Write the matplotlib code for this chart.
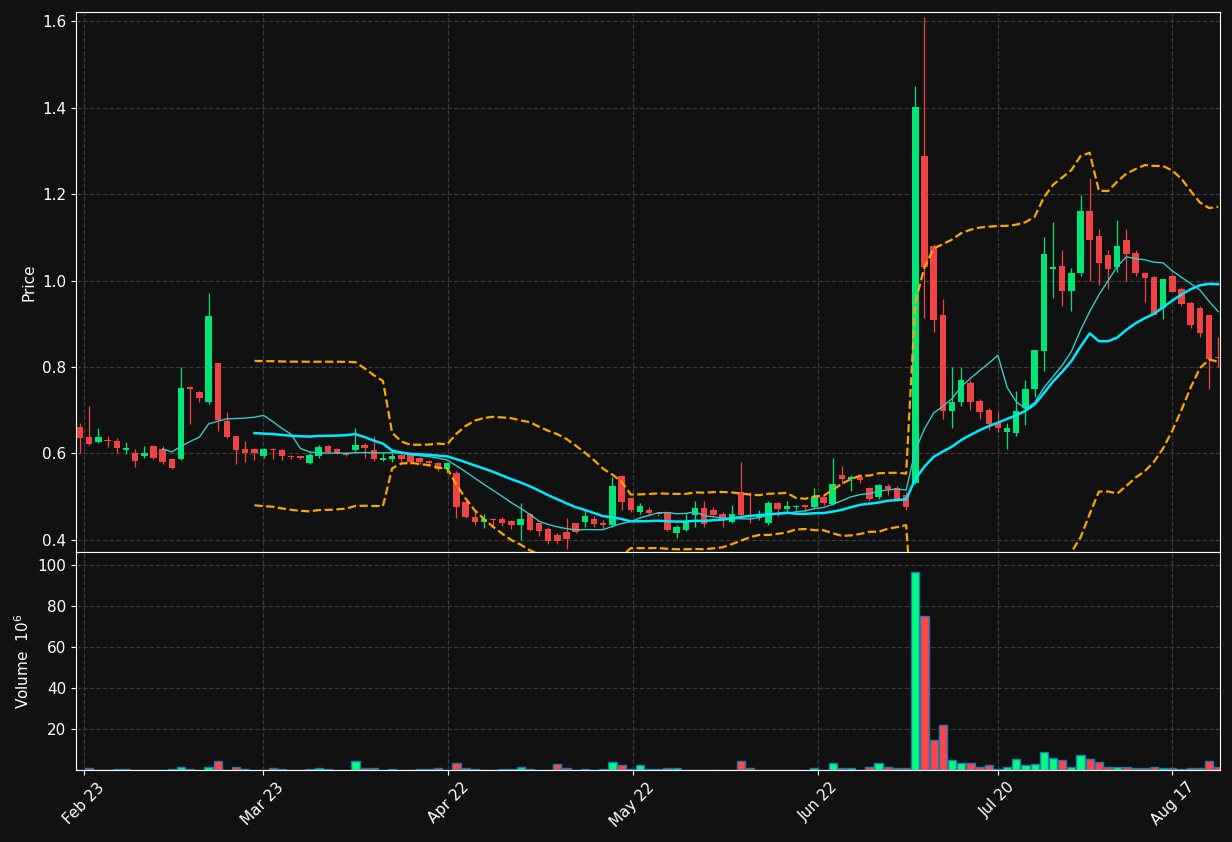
import matplotlib
matplotlib.use("Agg")
import matplotlib.pyplot as plt
import numpy as np
import pandas as pd

# daily OHLC (one row per trading day)
opens = [.661, .638, .627, .632, .629, .609, .601, .593, .617, .610, .587, .587, .754, .742, .719, .809, .675, .640, .610, .610,
         .593, .610, .608, .594, .593, .578, .594, .617, .610, .602, .608, .620, .608, .585, .587, .597, .597, .590, .582, .578,
         .564, .555, .488, .453, .442, .448, .449, .444, .435, .460, .439, .425, .412, .418, .439, .442, .449, .439, .435, .548,
         .497, .465, .469, .462, .462, .416, .423, .458, .474, .469, .460, .442, .511, .458, .451, .439, .486, .472, .476, .479,
         .476, .499, .483, .550, .541, .546, .520, .499, .524, .521, .504, .532, 1.288, 1.080, .920, .698, .719, .763, .721, .700,
         .670, .650, .647, .705, .749, .837, 1.027, 1.033, .976, 1.017, 1.161, 1.103, 1.059, 1.031, 1.094, 1.064, 1.017, 1.008, .936, 1.010,
         .980, .948, .936, .920, .822]
highs = [.670, .710, .659, .640, .635, .627, .610, .617, .620, .618, .590, .800, .755, .745, .971, .810, .696, .640, .628, .612,
         .612, .612, .610, .596, .595, .600, .620, .620, .612, .604, .659, .625, .640, .600, .600, .600, .600, .592, .585, .580,
         .580, .560, .490, .470, .460, .450, .452, .447, .486, .462, .440, .430, .415, .450, .440, .470, .455, .445, .546, .550,
         .500, .485, .475, .465, .465, .435, .460, .490, .490, .475, .465, .480, .580, .510, .470, .490, .487, .490, .480, .480,
         .520, .500, .590, .570, .550, .550, .522, .530, .530, .525, .510, 1.450, 1.610, 1.085, .957, .800, .800, .770, .725, .705,
         .695, .670, .745, .770, .790, 1.100, 1.135, 1.070, 1.030, 1.198, 1.237, 1.120, 1.070, 1.140, 1.120, 1.070, 1.020, 1.010, 1.000, 1.015,
         .985, .950, .940, .920, .870]
lows = [.601, .620, .625, .615, .600, .598, .569, .590, .588, .575, .565, .585, .668, .720, .715, .652, .635, .575, .580, .585,
        .590, .587, .585, .588, .587, .576, .590, .600, .598, .595, .605, .590, .583, .583, .580, .580, .575, .575, .570, .560,
        .555, .451, .450, .435, .428, .430, .432, .425, .400, .420, .410, .390, .390, .380, .415, .430, .430, .425, .430, .470,
        .465, .460, .455, .455, .420, .405, .420, .430, .430, .455, .430, .440, .452, .440, .445, .435, .455, .468, .470, .465,
        .474, .480, .480, .530, .513, .532, .490, .495, .505, .490, .470, .530, .913, .881, .680, .660, .710, .700, .680, .655,
        .650, .610, .640, .665, .730, .790, .960, .940, .930, 1.010, 1.000, .990, .980, 1.020, 1.000, 1.010, .950, .930, .910, .990,
        .940, .890, .870, .750, .800]
closes = [.636, .622, .638, .629, .613, .613, .583, .600, .590, .580, .567, .752, .750, .728, .918, .677, .638, .608, .600, .600,
          .610, .607, .593, .592, .590, .597, .615, .604, .601, .597, .620, .612, .587, .590, .594, .587, .580, .580, .578, .564,
          .577, .476, .453, .442, .449, .446, .440, .435, .449, .423, .421, .398, .398, .402, .418, .456, .437, .435, .525, .488,
          .469, .478, .462, .460, .423, .430, .442, .474, .437, .458, .446, .460, .458, .455, .458, .486, .472, .479, .479, .477,
          .500, .486, .530, .541, .546, .539, .495, .527, .518, .495, .476, 1.401, 1.031, .909, .698, .719, .770, .719, .696, .668,
          .659, .659, .698, .749, .839, 1.061, 1.031, .976, 1.017, 1.161, 1.094, 1.040, 1.027, 1.080, 1.061, 1.017, 1.006, .920, 1.003, .973,
          .946, .897, .879, .819, .820]
# volume in millions
volumes = [0.2, 0.8, 0.2, 0.2, 0.3, 0.3, 0.1, 0.1, 0.1, 0.2, 0.3, 1.5, 0.3, 0.1, 1.5, 4.5, 0.2, 1.5, 0.3, 0.1,
           0.1, 1.0, 0.3, 0.1, 0.1, 0.3, 1.0, 0.3, 0.1, 0.1, 4.5, 1.0, 1.0, 0.1, 0.3, 0.1, 0.1, 0.3, 0.3, 1.0,
           0.1, 3.4, 1.0, 0.3, 0.1, 0.1, 0.3, 0.3, 1.5, 0.3, 0.1, 0.1, 2.8, 1.0, 0.1, 0.3, 0.1, 0.3, 3.8, 2.3,
           0.3, 2.3, 0.3, 0.3, 0.9, 0.8, 0.2, 0.2, 0.1, 0.2, 0.1, 0.2, 4.3, 0.8, 0.2, 0.2, 0.2, 0.2, 0.1, 0.1,
           0.8, 0.1, 3.3, 0.8, 0.8, 0.1, 1.3, 3.6, 1.3, 0.8, 0.8, 96.6, 75.3, 14.6, 21.9, 4.7, 3.3, 3.3, 1.6, 2.3,
           0.7, 1.3, 5.2, 2.3, 2.8, 8.7, 5.7, 4.7, 1.6, 7.2, 5.2, 3.8, 1.6, 1.6, 1.3, 0.8, 0.8, 1.6, 0.8, 0.8,
           0.3, 0.8, 0.8, 4.3, 1.6]
tick_labels = ["Feb 23", "Mar 23", "Apr 22", "May 22", "Jun 22", "Jul 20", "Aug 17"]
tick_days = [0.4, 19.9, 40.1, 60.2, 80.4, 100.0, 119.0]

df = pd.DataFrame({"open": opens, "high": highs, "low": lows, "close": closes, "volume": volumes})
x = np.arange(len(df))
mav10 = df["close"].rolling(10).mean()
mav20 = df["close"].rolling(20).mean()
std20 = df["close"].rolling(20).std()

BG = "#111111"
UP, DOWN = "#00e676", "#ef4444"
VUP, VDOWN = "#00ff80", "#ff4545"

fig = plt.figure(figsize=(12.32, 8.42), dpi=100, facecolor=BG)
ax = fig.add_axes([0.0617, 0.3444, 0.9286, 0.6413])
axv = fig.add_axes([0.0617, 0.0855, 0.9286, 0.2589], sharex=ax)

up = df["close"] >= df["open"]
colors = np.where(up, UP, DOWN)
ax.vlines(x, df["low"], df["high"], colors=colors, lw=0.9, zorder=2)
ax.bar(x, (df["close"] - df["open"]).abs().clip(lower=0.003), bottom=df[["open", "close"]].min(axis=1),
       width=0.7, color=colors, zorder=3)
ax.plot(x, mav10, color="#3cc8c8", lw=1.0, zorder=4)
ax.plot(x, mav20, color="#00eaff", lw=1.8, zorder=4)
ax.plot(x, mav20 + 2 * std20, color="#ffa500", lw=1.6, ls="--", zorder=4)
ax.plot(x, mav20 - 2 * std20, color="#ffa500", lw=1.6, ls="--", zorder=4)
ax.set_ylim(0.372, 1.621)
ax.set_ylabel("Price", color="white", fontsize=11)

axv.bar(x, df["volume"], width=0.9, color=np.where(up, VUP, VDOWN), edgecolor="#1f77b4", lw=1.0)
axv.set_ylim(0, 106.5)
axv.set_yticks([20, 40, 60, 80, 100])
axv.set_ylabel("Volume  $10^6$", color="white", fontsize=11)

axv.set_xlim(-0.44, 124.2)
axv.set_xticks(tick_days)
axv.set_xticklabels(tick_labels, rotation=45, ha="center")
ax.tick_params(axis="x", labelbottom=False)

for a in (ax, axv):
    a.set_facecolor(BG)
    a.grid(True, ls="--", color="#3a3a3a", lw=0.9)
    a.set_axisbelow(True)
    a.tick_params(colors="white", labelsize=11)
    for s in a.spines.values():
        s.set_color("white")

fig.savefig("out.png", dpi=100, facecolor=BG)
